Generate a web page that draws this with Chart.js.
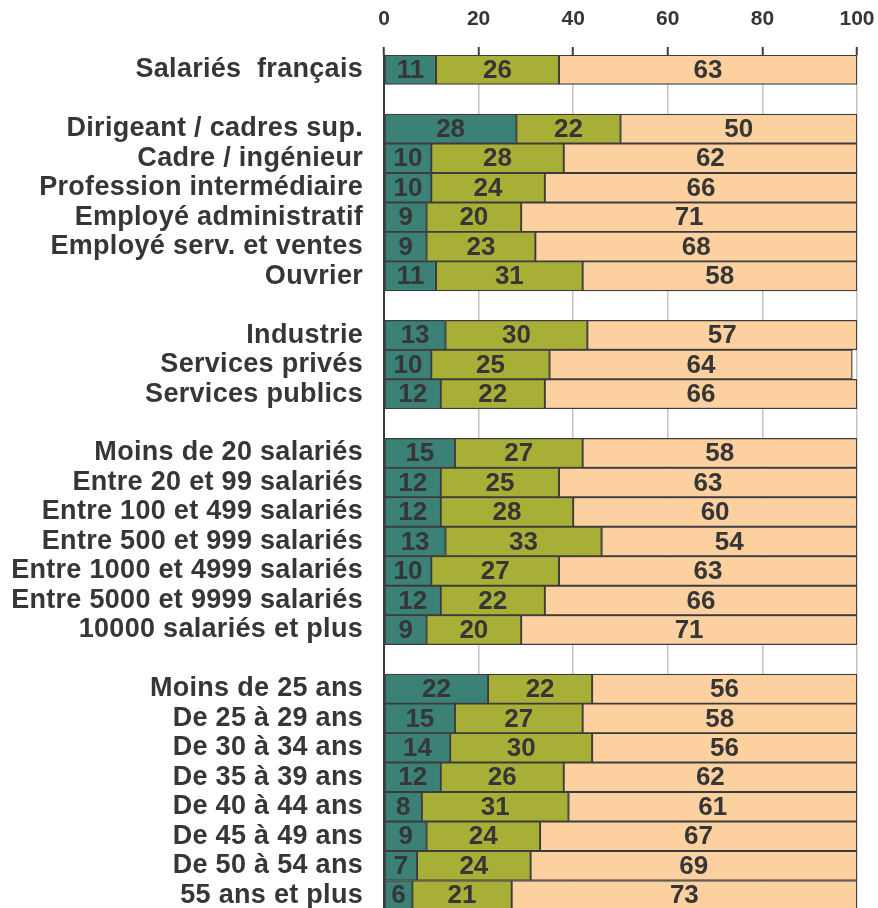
<!DOCTYPE html>
<html>
<head>
<meta charset="utf-8">
<script src="https://cdn.jsdelivr.net/npm/chart.js@4"></script>
<style>
  html, body { margin: 0; padding: 0; background: #fff; overflow: hidden; }
  canvas { display: block; }
</style>
</head>
<body>
<canvas id="chart" width="878" height="910"></canvas>
<script>
// empty strings are the blank spacer rows between groups
const categories = [
    'Salariés  français', '',
    'Dirigeant / cadres sup.', 'Cadre / ingénieur', 'Profession intermédiaire',
    'Employé administratif', 'Employé serv. et ventes', 'Ouvrier', '',
    'Industrie', 'Services privés', 'Services publics', '',
    'Moins de 20 salariés', 'Entre 20 et 99 salariés', 'Entre 100 et 499 salariés',
    'Entre 500 et 999 salariés', 'Entre 1000 et 4999 salariés', 'Entre 5000 et 9999 salariés',
    '10000 salariés et plus', '',
    'Moins de 25 ans', 'De 25 à 29 ans', 'De 30 à 34 ans', 'De 35 à 39 ans',
    'De 40 à 44 ans', 'De 45 à 49 ans', 'De 50 à 54 ans', '55 ans et plus'
];
const part1 = [11, null, 28, 10, 10, 9, 9, 11, null, 13, 10, 12, null,
    15, 12, 12, 13, 10, 12, 9, null, 22, 15, 14, 12, 8, 9, 7, 6];
const part2 = [26, null, 22, 28, 24, 20, 23, 31, null, 30, 25, 22, null,
    27, 25, 28, 33, 27, 22, 20, null, 22, 27, 30, 26, 31, 24, 24, 21];
const part3 = [63, null, 50, 62, 66, 71, 68, 58, null, 57, 64, 66, null,
    58, 63, 60, 54, 63, 66, 71, null, 56, 58, 56, 62, 61, 67, 69, 73];
const xTicks = [0, 20, 40, 60, 80, 100];

const textColor = '#363636';
const borderColor = '#3c3c3c';
const fontFamily = '"Liberation Sans", Arial, sans-serif';

// writes the value in the middle of each bar segment
const barValues = {
    id: 'barValues',
    afterDatasetsDraw(chart) {
        const ctx = chart.ctx;
        ctx.save();
        ctx.letterSpacing = '0px';
        ctx.font = 'bold 26px ' + fontFamily;
        ctx.fillStyle = textColor;
        ctx.textAlign = 'center';
        ctx.textBaseline = 'middle';
        chart.data.datasets.forEach((ds, i) => {
            chart.getDatasetMeta(i).data.forEach((bar, j) => {
                const v = ds.data[j];
                if (v === null) return;
                ctx.fillText(String(v), (bar.x + bar.base) / 2, bar.y + 1);
            });
        });
        ctx.restore();
    }
};

// slight extra letter spacing for the category labels only
const labelSpacing = {
    id: 'labelSpacing',
    beforeDraw(chart) { chart.ctx.letterSpacing = '0.3px'; },
    beforeDatasetsDraw(chart) { chart.ctx.letterSpacing = '0px'; }
};

new Chart(document.getElementById('chart'), {
    type: 'bar',
    data: {
        labels: categories,
        datasets: [
            { data: part1, backgroundColor: '#3b8175', borderColor: borderColor, borderWidth: 1.3, borderSkipped: false },
            { data: part2, backgroundColor: '#a8af37', borderColor: borderColor, borderWidth: 1.3, borderSkipped: false },
            { data: part3, backgroundColor: '#fdd09f', borderColor: borderColor, borderWidth: 1.3, borderSkipped: false }
        ]
    },
    options: {
        indexAxis: 'y',
        responsive: false,
        animation: false,
        layout: { padding: { left: 0, right: 21, top: 0, bottom: 0 } },
        datasets: { bar: { barPercentage: 1, categoryPercentage: 1 } },
        plugins: {
            legend: { display: false },
            tooltip: { enabled: false }
        },
        scales: {
            x: {
                position: 'top',
                stacked: true,
                min: 0,
                max: 100,
                afterBuildTicks: (scale) => { scale.ticks = xTicks.map(v => ({ value: v })); },
                afterFit: (scale) => {
                    scale.height = 55;
                    scale.paddingLeft = 0;
                    scale.paddingRight = 0;
                },
                border: { display: false },
                grid: {
                    color: '#c9c0c2',
                    lineWidth: 1.5,
                    drawTicks: true,
                    tickLength: 8,
                    tickColor: borderColor,
                    tickWidth: 2
                },
                ticks: {
                    z: 1,
                    padding: 15,
                    color: textColor,
                    maxRotation: 0,
                    font: { family: fontFamily, size: 21, weight: 'bold' }
                }
            },
            y: {
                stacked: true,
                afterFit: (scale) => {
                    scale.width = 384;
                    scale.paddingTop = 0;
                    scale.paddingBottom = 0;
                },
                border: { display: true, color: borderColor, width: 2 },
                grid: { display: false, drawTicks: false },
                ticks: {
                    padding: 21,
                    autoSkip: false,
                    color: textColor,
                    font: { family: fontFamily, size: 27, weight: 'bold' }
                }
            }
        }
    },
    plugins: [labelSpacing, barValues]
});
</script>
</body>
</html>
